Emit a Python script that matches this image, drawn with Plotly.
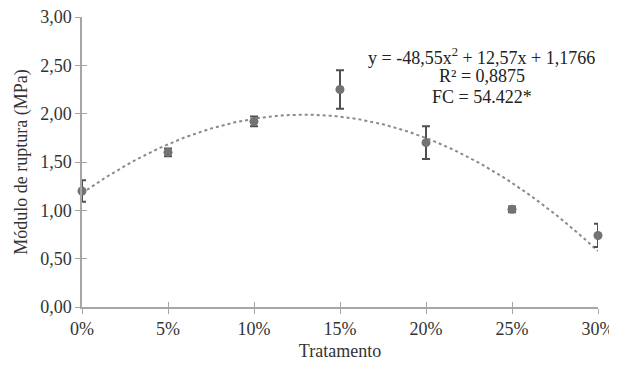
import plotly.graph_objects as go
import numpy as np

tratamento = [0.0, 0.05, 0.10, 0.15, 0.20, 0.25, 0.30]
tick_labels = ["0%", "5%", "10%", "15%", "20%", "25%", "30%"]
modulo = [1.20, 1.60, 1.92, 2.25, 1.70, 1.01, 0.74]
erro = [0.11, 0.04, 0.05, 0.20, 0.17, 0.03, 0.12]
y_ticks = [0, 0.5, 1.0, 1.5, 2.0, 2.5, 3.0]
y_tick_labels = ["0,00", "0,50", "1,00", "1,50", "2,00", "2,50", "3,00"]
coef_a, coef_b, coef_c = -48.55, 12.57, 1.1766

xs = np.linspace(0, 0.30, 200)
ys = coef_a * xs**2 + coef_b * xs + coef_c

font = "Liberation Serif"
fs = 18
fig = go.Figure()
fig.add_trace(go.Scatter(x=xs, y=ys, mode="lines",
                         line=dict(color="#8a8a8a", width=2, dash="dot"),
                         hoverinfo="skip", showlegend=False, cliponaxis=False))
fig.add_trace(go.Scatter(x=tratamento, y=modulo, mode="markers",
                         marker=dict(color="#737373", size=9),
                         error_y=dict(type="data", array=erro, color="#505050",
                                      thickness=2, width=4),
                         showlegend=False, cliponaxis=False))

ann = [("y = -48,55x<sup>2</sup> + 12,57x + 1,1766", 0.865),
       ("R² = 0,8875", 0.795),
       ("FC = 54.422*", 0.724)]
for txt, yy in ann:
    fig.add_annotation(xref="paper", yref="paper", x=0.775, y=yy, xanchor="center", yanchor="middle",
                       text=txt, showarrow=False,
                       font=dict(family=font, size=fs, color="#222"))

axis_common = dict(showgrid=False, zeroline=False, showline=True, linecolor="#a6a6a6",
                   linewidth=1.5, tickcolor="#a6a6a6", ticklen=5, automargin=False)
fig.update_layout(
    width=609, height=357,
    margin=dict(l=74, r=19, t=9, b=58),
    paper_bgcolor="white", plot_bgcolor="white",
    font=dict(family=font, size=fs, color="#333"),
    xaxis=dict(range=[0, 0.30], tickvals=tratamento, ticktext=tick_labels, ticks="outside",
               ticklabeloverflow="allow",
               title=dict(text="Tratamento", font=dict(size=fs), standoff=6), **axis_common),
    yaxis=dict(range=[0, 3.0], tickvals=y_ticks, ticktext=y_tick_labels, ticks="outside",
               ticklabeloverflow="allow",
               title=dict(text="Módulo de ruptura (MPa)", font=dict(size=fs), standoff=8), **axis_common),
    xaxis2=dict(range=[0, 0.30], tickvals=tratamento, ticks="inside", showticklabels=False,
                overlaying="x", side="bottom", anchor="y", **axis_common),
    yaxis2=dict(range=[0, 3.0], tickvals=y_ticks, ticks="inside", showticklabels=False,
                overlaying="y", side="left", anchor="x", **axis_common),
)
fig.add_trace(go.Scatter(x=[0], y=[0], xaxis="x2", yaxis="y2", mode="markers",
                         marker=dict(opacity=0), hoverinfo="skip", showlegend=False))
fig.write_html("out.html")
